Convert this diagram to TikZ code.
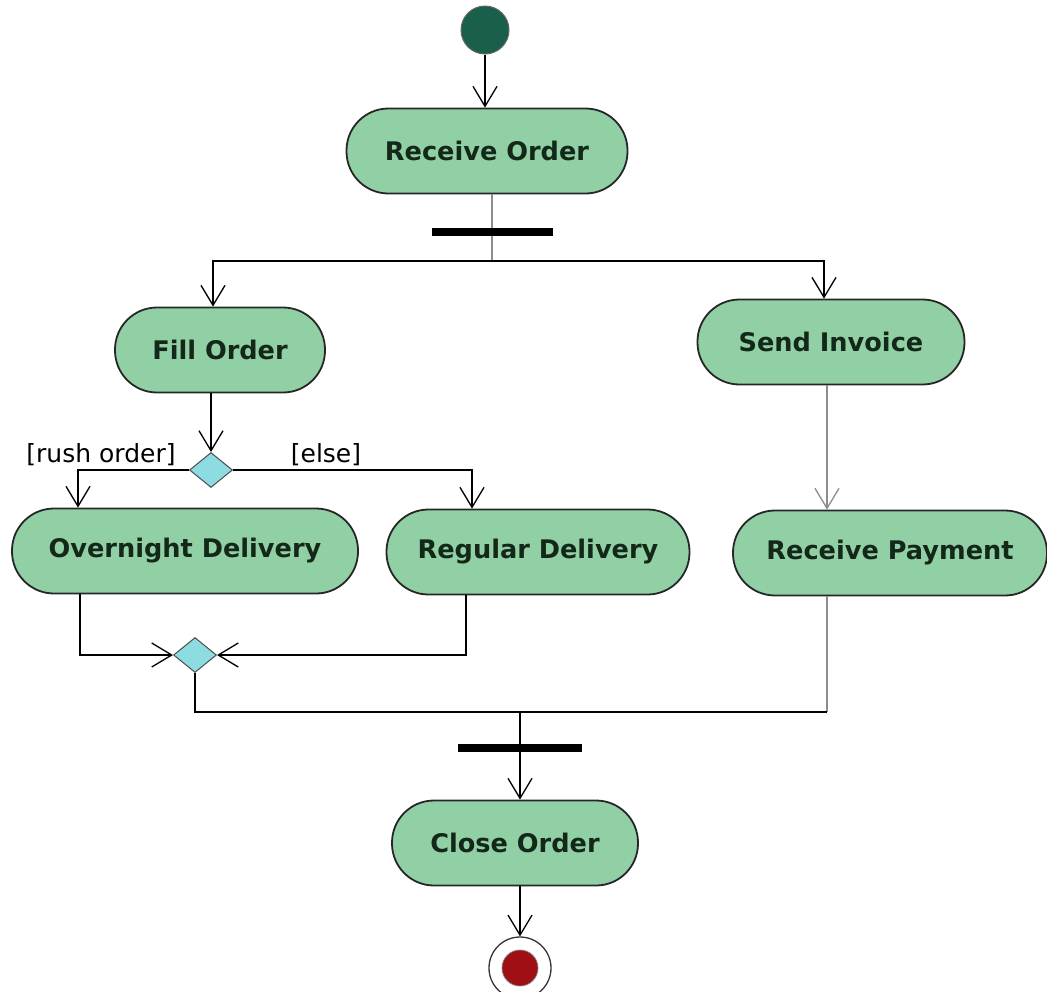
\documentclass[tikz,border=0pt]{standalone}
\usepackage{fontspec}
\setmainfont{DejaVu Sans}
\usetikzlibrary{arrows.meta,shapes.geometric}
\definecolor{actgreen}{RGB}{145,208,165}
\definecolor{startgreen}{RGB}{25,95,75}
\definecolor{decblue}{RGB}{140,220,225}
\definecolor{endred}{RGB}{160,15,20}
\definecolor{txtdark}{RGB}{20,40,25}
\begin{document}
\begin{tikzpicture}[x=1pt, y=-1pt, line width=1.6pt,
		action/.style={draw=black!85, line width=1.8pt, fill=actgreen, rectangle, rounded corners=42pt, minimum height=85pt, text=txtdark, font=\fontsize{25.6}{30}\selectfont\bfseries},
		bar/.style={fill=black, inner sep=0pt, minimum height=8pt},
		decision/.style={diamond, draw=black!70, line width=1pt, fill=decblue, inner sep=0pt, minimum width=43pt, minimum height=35pt},
		guard/.style={font=\fontsize{25}{29}\selectfont, inner sep=0pt},
		flow/.style={-{Straight Barb[length=20pt,width=24pt,line width=1.3pt]}},
		thin/.style={draw=black!45, line width=1.3pt}]
	\useasboundingbox (0,0) rectangle (1047,991);

	\node[circle, fill=startgreen, draw=black!60, line width=1pt, minimum size=48pt, inner sep=0pt] (start) at (485,30) {};
	\node[action, minimum width=281pt] (recv) at (487,151) {Receive Order};
	\coordinate (split) at (492,261);
	\draw[thin] (recv.south -| split) -- (split);
	\node[bar, minimum width=121pt] (fork) at (492,232) {};
	\draw[flow] (start) -- (start |- recv.north);

	\node[action, minimum width=210pt] (fill) at (220,350) {Fill Order};
	\node[action, minimum width=267pt] (invoice) at (831,342) {Send Invoice};
	\draw[flow] (split) -| ([xshift=-7pt]fill.north);
	\draw[flow] (split) -| ([xshift=-7pt]invoice.north);

	\node[decision] (branch) at (211,470) {};
	\draw[flow] ([xshift=-9pt]fill.south) -- (branch.north);
	\node[guard] (rush) at (101,455) {[rush order]};
	\node[guard] (else) at (326,455) {[else]};

	\node[action, minimum width=346pt] (overnight) at (185,551) {Overnight Delivery};
	\node[action, minimum width=303pt] (regular) at (538,552) {Regular Delivery};
	\node[action, minimum width=314pt] (payment) at (890,553) {Receive Payment};
	\draw[flow] (branch.west) -| ([xshift=-107pt]overnight.north);
	\draw[flow] (branch.east) -| ([xshift=-66pt]regular.north);
	\draw[thin, flow] ([xshift=-4pt]invoice.south) -- ([xshift=-63pt]payment.north);

	\node[decision] (merge) at (195,655) {};
	\draw[flow] ([xshift=-105pt]overnight.south) |- (merge.west);
	\draw[flow] ([xshift=-72pt]regular.south) |- (merge.east);

	\coordinate (joinpt) at (520,712);
	\coordinate (corner) at (827,712);
	\draw[thin] ([xshift=-63pt]payment.south) -- (corner);
	\draw (merge.south) |- (corner);
	\node[bar, minimum width=124pt] (join) at (520,748) {};

	\node[action, minimum width=246pt] (close) at (515,843) {Close Order};
	\draw[flow] (joinpt) -- (joinpt |- close.north);

	\node[circle, draw=black!80, line width=1.3pt, fill=white, minimum size=62pt, inner sep=0pt] (final) at (520,968) {};
	\node[circle, fill=endred, draw=black!50, line width=0.8pt, minimum size=36pt, inner sep=0pt] (finaldot) at (final.center) {};
	\draw[flow] ([xshift=5pt]close.south) -- (final.north);
\end{tikzpicture}
\end{document}
